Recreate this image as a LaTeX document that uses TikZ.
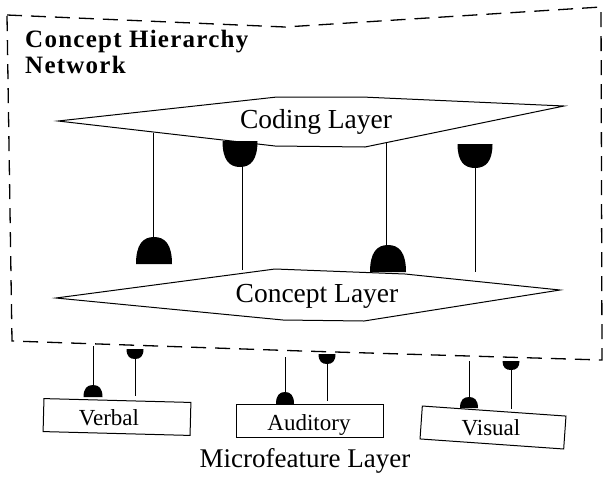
\documentclass[tikz,border=0pt]{standalone}
\usepackage{fontspec}
\setmainfont{Liberation Serif}
\begin{document}
\begin{tikzpicture}[x=1pt,y=-1pt,
  layer/.style={draw=black,line width=1pt,line join=miter},
  frame/.style={draw=black,line width=1.3pt,dash pattern=on 15pt off 9pt},
  wire/.style={draw=black,line width=1pt},
  fbox/.style={draw=black,line width=1pt,minimum width=147pt,minimum height=33pt,inner sep=0pt},
  lbl/.style={font=\fontsize{27.5}{30}\selectfont,inner sep=0pt,anchor=base},
  flbl/.style={font=\fontsize{23}{25}\selectfont,inner sep=0pt,anchor=base},
  ttl/.style={font=\fontsize{25}{27}\selectfont\bfseries\addfontfeature{LetterSpace=5},inner sep=0pt,anchor=base west},
  dome/.pic={\fill (-1,0) .. controls (-1,-0.72) and (-0.62,-1) .. (0,-1) .. controls (0.62,-1) and (1,-0.72) .. (1,0) -- cycle;},
  cup/.pic={\fill (-1,0) .. controls (-1,0.72) and (-0.62,1) .. (0,1) .. controls (0.62,1) and (1,0.72) .. (1,0) -- cycle;}
]
% page
\fill[white] (0,0) rectangle (604,477);
\useasboundingbox (0,0) rectangle (604,477);

% dashed outline of the network
\draw[frame] (7,15) -- (285,27) -- (601,7) -- (602,360) -- (302,351) -- (12,341) -- cycle;

% title
\node[ttl] (title1) at (25,47) {Concept Hierarchy};
\node[ttl] (title2) at (25,73) {Network};

% coding layer
\draw[layer] (58,121) -- (277,97) -- (362,97) -- (564,106) -- (365,147) -- (275,146) -- cycle;
\node[lbl] (coding) at (316,128) {Coding Layer};

% concept layer
\draw[layer] (56,298) -- (275,269) -- (405,274) -- (560,290) -- (364,321) -- (283,320) -- cycle;
\node[lbl] (concept) at (317,302) {Concept Layer};

% connections between coding and concept layer
\coordinate (k1a) at (153,133);
\coordinate (k1b) at (153,240);
\draw[wire] (k1a) -- (k1b);
\pic[xscale=18,yscale=27] at (154,264) {dome};

\coordinate (k2a) at (242,166);
\coordinate (k2b) at (242,270);
\pic[xscale=17.5,yscale=26] at (240,141) {cup};
\draw[wire] (k2a) -- (k2b);

\coordinate (k3a) at (386,143);
\coordinate (k3b) at (386,248);
\draw[wire] (k3a) -- (k3b);
\pic[xscale=18,yscale=27] at (388,272) {dome};

\coordinate (k4a) at (475,167);
\coordinate (k4b) at (475,272);
\pic[xscale=17.5,yscale=24] at (475,144) {cup};
\draw[wire] (k4a) -- (k4b);

% microfeature units
\node[fbox,rotate=-1.5] (verbal) at (117,417) {};
\node[flbl] at (109,425) {Verbal};
\node[fbox] (auditory) at (309.5,420.5) {};
\node[flbl] at (309,430) {Auditory};
\node[fbox,minimum width=144pt,rotate=-4] (visual) at (493,427.5) {};
\node[flbl] at (491,435) {Visual};
\node[lbl,font=\fontsize{27}{30}\selectfont] (micro) at (305,467) {Microfeature Layer};

% connections between the network and the microfeatures
\coordinate (v1a) at (93,346);
\coordinate (v1b) at (93,386);
\draw[wire] (v1a) -- (v1b);
\pic[xscale=9.5,yscale=12] at (93,397) {dome};
\coordinate (v2a) at (135,358);
\coordinate (v2b) at (135,396);
\pic[xscale=8.5,yscale=10] at (135,349) {cup};
\draw[wire] (v2a) -- (v2b);

\coordinate (a1a) at (285,357);
\coordinate (a1b) at (285,394);
\draw[wire] (a1a) -- (a1b);
\pic[xscale=9,yscale=12] at (285,404) {dome};
\coordinate (a2a) at (327,363);
\coordinate (a2b) at (327,401);
\pic[xscale=8.5,yscale=10] at (327,354) {cup};
\draw[wire] (a2a) -- (a2b);

\coordinate (s1a) at (469,361);
\coordinate (s1b) at (469,398);
\draw[wire] (s1a) -- (s1b);
\pic[xscale=9,yscale=11] at (469,408) {dome};
\coordinate (s2a) at (511,369);
\coordinate (s2b) at (511,409);
\pic[xscale=8.5,yscale=9] at (511,361) {cup};
\draw[wire] (s2a) -- (s2b);
\end{tikzpicture}
\end{document}
